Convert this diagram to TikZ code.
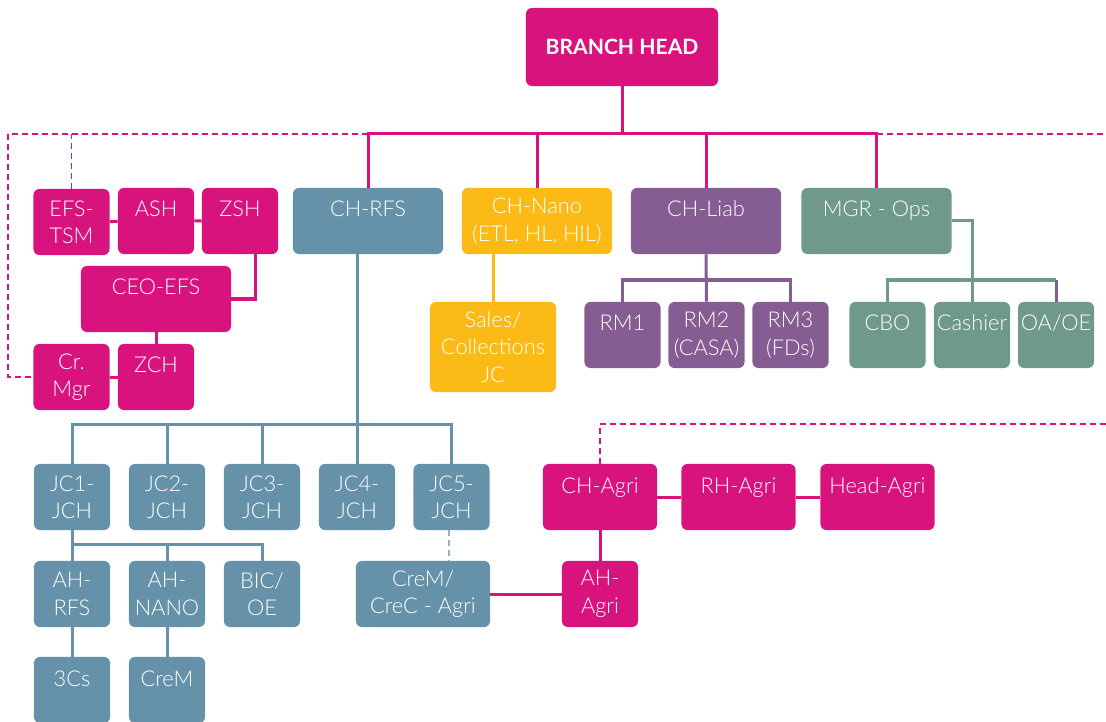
\documentclass[tikz,border=0pt]{standalone}
\usepackage{fontspec}
\setmainfont{Lato Light}[BoldFont={Lato Bold}]
\usetikzlibrary{positioning}
\definecolor{bpink}{HTML}{D9137D}
\definecolor{bblue}{HTML}{6592A8}
\definecolor{byellow}{HTML}{FBBA16}
\definecolor{bpurple}{HTML}{855D92}
\definecolor{bgreen}{HTML}{6F9A89}
\tikzset{
    block/.style = {rectangle, rounded corners=0.15cm, text=white,
        minimum height=1.65cm,
        minimum width=1.9cm, align=center, inner xsep=1pt,
        font=\fontsize{15.5}{19.5}\selectfont},
    wide/.style = {minimum width=3.75cm},
    one/.style = {text height=0.4cm, text depth=0.6cm},
    link/.style = {line width=0.075cm},
    dotline/.style = {line width=0.035cm, dash pattern=on 0.15cm off 0.1cm}
}

\begin{document}
\begin{tikzpicture}[x=0.025cm, y=-0.025cm]
    \useasboundingbox (0,0) rectangle (1106,722);
    \node [block, fill=bpink, minimum width=4.8cm, minimum height=1.95cm, font=\fontsize{15}{19}\selectfont\bfseries] (head) at (622,47) {BRANCH HEAD};
    \coordinate (bus) at (622,134);
    \coordinate (lcorner) at (8,134);
    \coordinate (rcorner) at (1106,134);

    \node [block, fill=bpink] (efs) at (71.5,222) {EFS-\\TSM};
    \node [block, one, fill=bpink] (ash) at (156,221) {ASH};
    \node [block, one, fill=bpink] (zsh) at (240,221) {ZSH};
    \node [block, one, wide, fill=bpink] (ceo) at (156,299) {CEO-EFS};
    \node [block, fill=bpink] (crmgr) at (71.5,377) {Cr.\\Mgr};
    \node [block, one, fill=bpink] (zch) at (156,377) {ZCH};

    \node [block, one, wide, fill=bblue] (rfs) at (368,221) {CH-RFS};
    \node [block, wide, fill=byellow] (nano) at (537,221) {CH-Nano\\(ETL, HL, HIL)};
    \node [block, one, wide, fill=bpurple] (liab) at (706,221) {CH-Liab};
    \node [block, one, wide, fill=bgreen] (ops) at (876.5,221) {MGR - Ops};

    \node [block, fill=byellow, minimum width=3.15cm, minimum height=2.25cm] (sales) at (493,347) {Sales/\\Collections\\JC};
    \node [block, one, fill=bpurple] (rm1) at (622.5,335) {RM1};
    \node [block, fill=bpurple] (rm2) at (706.5,335) {RM2\\(CASA)};
    \node [block, fill=bpurple] (rm3) at (790.5,335) {RM3\\(FDs)};
    \coordinate (liabbus) at (706,280);
    \node [block, one, fill=bgreen] (cbo) at (887.5,335) {CBO};
    \node [block, one, fill=bgreen] (cashier) at (972,335) {Cashier};
    \node [block, one, fill=bgreen] (oaoe) at (1056,335) {OA/OE};
    \coordinate (opsbus) at (972,280);

    \node [block, fill=bblue] (jc1) at (72,497) {JC1-\\JCH};
    \node [block, fill=bblue] (jc2) at (167,497) {JC2-\\JCH};
    \node [block, fill=bblue] (jc3) at (262,497) {JC3-\\JCH};
    \node [block, fill=bblue] (jc4) at (357,497) {JC4-\\JCH};
    \node [block, fill=bblue] (jc5) at (451.5,497) {JC5-\\JCH};
    \coordinate (rfsbus) at (356,424);
    \node [block, fill=bblue] (ahrfs) at (72,594) {AH-\\RFS};
    \node [block, fill=bblue] (ahnano) at (167,594) {AH-\\NANO};
    \node [block, fill=bblue] (bic) at (262,594) {BIC/\\OE};
    \coordinate (jcbus) at (72,544);
    \node [block, one, fill=bblue] (cs3) at (72,690) {3Cs};
    \node [block, one, fill=bblue] (crem) at (167,690) {CreM};
    \node [block, fill=bblue, minimum width=3.35cm] (cremc) at (423,594) {CreM/\\CreC - Agri};

    \node [block, one, fill=bpink, minimum width=2.85cm] (chagri) at (600,497) {CH-Agri};
    \node [block, one, fill=bpink, minimum width=2.85cm] (rhagri) at (738.5,497) {RH-Agri};
    \node [block, one, fill=bpink, minimum width=2.85cm] (headagri) at (877.5,497) {Head-Agri};
    \node [block, fill=bpink] (ahagri) at (600,594) {AH-\\Agri};
    \coordinate (acorner) at (600,424);
    \coordinate (aend) at (1106,424);

    \draw [link, bpink] (head.south) -- (bus);
    \draw [link, bpink] (rfs.north) |- (ops.north |- bus) -- (ops.north);
    \draw [link, bpink] (nano.north) -- (nano.north |- bus);
    \draw [link, bpink] (liab.north) -- (liab.north |- bus);
    \draw [dotline, bpink] (rfs.north |- bus) -- (lcorner) |- (crmgr.west);
    \draw [dotline, bpink] (efs.north) -- (efs.north |- bus);
    \draw [dotline, bpink] (ops.north |- bus) -- (rcorner);

    \draw [link, bpink] (efs) -- (ash) -- (zsh);
    \draw [link, bpink] ([xshift=0.375cm]zsh.south) |- (ceo.east);
    \draw [link, bpink] (ceo) -- (zch);
    \draw [link, bpink] (crmgr) -- (zch);

    \draw [link, byellow] (sales.north) -- (sales.north |- nano.south);
    \draw [link, bpurple] (liab.south) -- (rm2.north);
    \draw [link, bpurple] (rm1.north) |- (liabbus) -| (rm3.north);
    \draw [link, bgreen] (ops.east) -| (cashier.north);
    \draw [link, bgreen] (cbo.north) |- (oaoe.north |- opsbus);
    \draw [link, bpurple] (oaoe.north |- opsbus) -- (oaoe.north);

    \draw [link, bblue] (jc4.north) -- (jc4.north |- rfs.south);
    \draw [link, bblue] (jc1.north) |- (jc5.north |- rfsbus) -- (jc5.north);
    \draw [link, bblue] (jc2.north) -- (jc2.north |- rfsbus);
    \draw [link, bblue] (jc3.north) -- (jc3.north |- rfsbus);
    \draw [link, bblue] (jc1) -- (ahrfs);
    \draw [link, bblue] (jcbus) -| (bic.north);
    \draw [link, bblue] (ahnano.north) -- (ahnano.north |- jcbus);
    \draw [link, bblue] (ahrfs) -- (cs3);
    \draw [link, bblue] (ahnano) -- (crem);
    \draw [dotline, bblue!70] ([xshift=-0.06cm]jc5.south) -- ([xshift=-0.06cm]jc5.south |- cremc.north);

    \draw [link, bpink] (cremc) -- (ahagri);
    \draw [link, bpink] (chagri) -- (ahagri);
    \draw [link, bpink] (chagri) -- (rhagri) -- (headagri);
    \draw [dotline, bpink] (chagri.north) -- (acorner) -- (aend);
\end{tikzpicture}
\end{document}
